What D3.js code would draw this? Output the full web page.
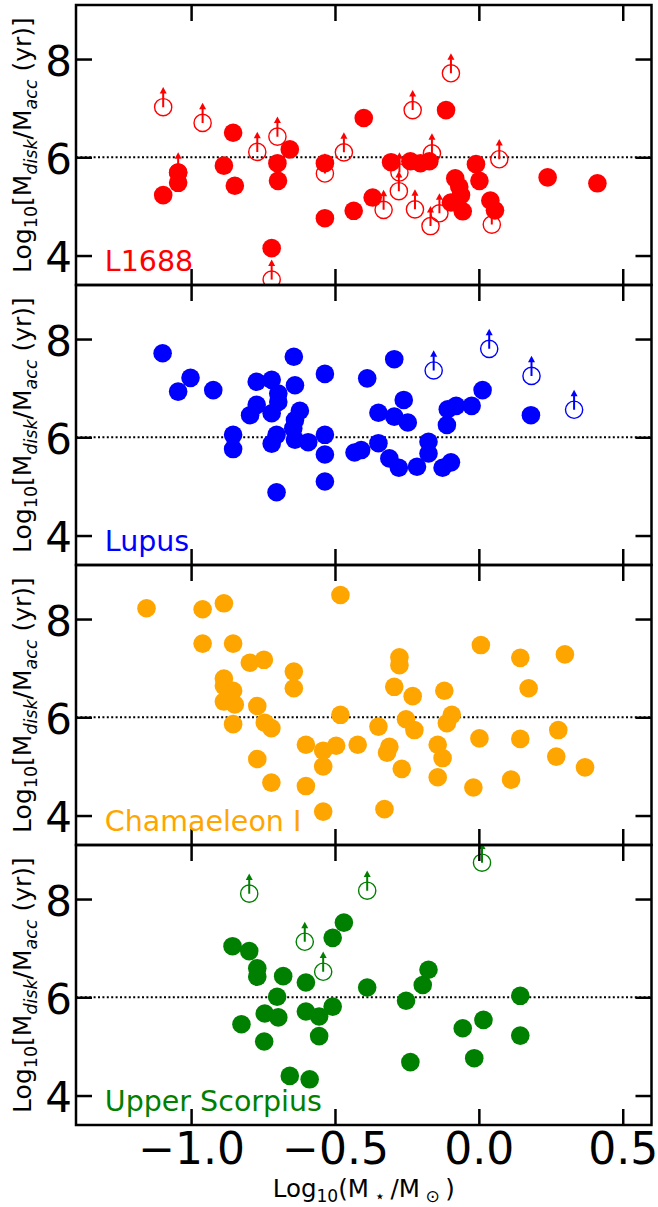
<!DOCTYPE html>
<html><head><meta charset="utf-8">
<script src="https://cdn.jsdelivr.net/npm/d3@7"></script>
<style>
html,body{margin:0;padding:0;background:#fff;}
svg{display:block;font-family:"DejaVu Sans",sans-serif;}
text{white-space:pre;}
</style></head><body>
<svg id="chart" width="658" height="1207"></svg>
<script>
// ---------- data ----------
const regionNames = ["L1688", "Lupus", "Chamaeleon I", "Upper Scorpius"];
const regionColors = ["red", "blue", "orange", "green"];
const xTicks = [-1.0, -0.5, 0.0, 0.5];
const yTicks = [4, 6, 8];
const xDomain = [-1.4, 0.6];
const yDomain = [3.4, 9.1];
const refLevel = 6;

// L1688: detections (filled) and lower limits (open + arrow)
const l1688DetMass = [-1.097,-1.045,-1.045,-0.886,-0.854,-0.848,-0.700,-0.698,-0.657,-0.720,-0.535,-0.535,-0.400,-0.435,-0.369,-0.305,-0.238,-0.203,-0.172,-0.114,-0.082,-0.068,-0.062,-0.097,-0.056,-0.010,0.002,0.040,0.056,0.239,0.412];
const l1688DetRatio = [5.23,5.48,5.69,5.83,6.50,5.42,5.88,5.52,6.16,4.15,5.88,4.76,6.80,4.91,5.18,5.90,5.92,5.88,5.92,6.96,5.57,5.40,5.23,5.08,4.90,5.86,5.52,5.12,4.92,5.59,5.47];
const l1688LimMass = [-1.097,-0.960,-0.770,-0.700,-0.720,-0.535,-1.045,-0.469,-0.230,-0.097,-0.163,0.071,-0.276,-0.278,-0.331,-0.222,-0.137,-0.168,0.045];
const l1688LimRatio = [7.02,6.70,6.11,6.42,3.51,5.67,5.69,6.10,6.96,7.71,6.08,5.96,5.69,5.31,4.93,4.94,4.86,4.60,4.63];

// Lupus
const lupusDetMass = [-1.099,-1.045,-1.002,-0.923,-0.854,-0.854,-0.772,-0.720,-0.697,-0.697,-0.772,-0.795,-0.720,-0.703,-0.720,-0.703,-0.643,-0.639,-0.622,-0.639,-0.645,-0.639,-0.593,-0.535,-0.535,-0.535,-0.535,-0.294,-0.388,-0.261,-0.349,-0.294,-0.247,-0.108,-0.079,-0.025,0.013,-0.111,0.181,-0.349,-0.432,-0.409,-0.311,-0.278,-0.215,-0.175,-0.175,-0.126,-0.097];
const lupusDetRatio = [7.71,6.93,7.21,6.96,6.05,5.76,7.13,7.17,6.89,6.72,6.66,6.45,6.49,6.05,5.87,4.88,7.64,7.06,6.54,6.35,6.18,5.95,5.90,7.29,6.05,5.65,5.10,7.59,7.20,6.76,6.50,6.42,6.30,6.57,6.64,6.64,6.96,6.25,6.45,5.88,5.69,5.74,5.57,5.38,5.40,5.91,5.67,5.38,5.49];
const lupusLimMass = [-0.157,0.036,0.183,0.331];
const lupusLimRatio = [7.36,7.80,7.25,6.56];

// Chamaeleon I
const chaDetMass = [-1.155,-0.960,-0.886,-0.960,-0.854,-0.796,-0.747,-0.643,-0.643,-0.886,-0.886,-0.854,-0.886,-0.848,-0.770,-0.854,-0.744,-0.721,-0.601,-0.770,-0.721,-0.601,-0.541,-0.541,-0.541,-0.481,-0.481,-0.496,-0.421,-0.349,-0.328,-0.319,-0.311,-0.276,-0.276,-0.294,-0.230,-0.253,-0.224,-0.268,-0.143,-0.126,-0.143,-0.120,-0.094,-0.111,0.007,0.002,-0.019,0.144,0.173,0.144,0.112,0.299,0.276,0.269,0.369];
const chaDetRatio = [8.22,8.20,8.32,7.50,7.50,7.11,7.17,6.93,6.59,6.79,6.64,6.54,6.32,6.26,6.23,5.86,5.89,5.78,5.44,5.15,4.67,4.60,4.08,5.32,5.00,8.49,6.05,5.42,5.44,5.81,4.13,5.28,5.40,7.22,7.06,6.62,6.43,5.96,5.74,4.95,5.44,5.17,4.78,6.54,6.05,5.88,7.47,5.57,4.57,7.21,6.59,5.56,4.73,7.28,5.74,5.20,4.98];
const chaLimMass = [];
const chaLimRatio = [];

// Upper Scorpius
const uscoDetMass = [-0.856,-0.798,-0.770,-0.770,-0.680,-0.601,-0.701,-0.744,-0.697,-0.825,-0.746,-0.657,-0.588,-0.601,-0.555,-0.555,-0.508,-0.508,-0.469,-0.388,-0.253,-0.195,-0.175,-0.238,-0.056,0.016,-0.016,0.144,0.144];
const uscoDetRatio = [7.04,6.94,6.59,6.42,6.43,6.30,6.01,5.67,5.59,5.45,5.10,4.40,4.33,5.71,5.61,5.21,7.21,5.81,7.52,6.20,5.93,6.25,6.56,4.68,5.37,5.54,4.76,6.03,5.22];
const uscoLimMass = [-0.798,-0.605,-0.541,-0.388,0.011];
const uscoLimRatio = [8.11,7.13,6.52,8.17,8.74];

// ---------- layout / style ----------
const plotLeft = 76, plotRight = 651.5, panelTop0 = 5, panelH = 280;
const tickLen = 16, tickW = 2.5, spineW = 2.5;
const dotR = 9.3, ringR = 8.6, ringW = 1.4;
const arrowLen = 0.41;      // dex
const headLen = 6.5, headHalfW = 3.5;

const panels = [
  {name: regionNames[0], color: regionColors[0], detX: l1688DetMass, detY: l1688DetRatio, limX: l1688LimMass, limY: l1688LimRatio},
  {name: regionNames[1], color: regionColors[1], detX: lupusDetMass, detY: lupusDetRatio, limX: lupusLimMass, limY: lupusLimRatio},
  {name: regionNames[2], color: regionColors[2], detX: chaDetMass, detY: chaDetRatio, limX: chaLimMass, limY: chaLimRatio},
  {name: regionNames[3], color: regionColors[3], detX: uscoDetMass, detY: uscoDetRatio, limX: uscoLimMass, limY: uscoLimRatio}
];

const svg = d3.select("#chart");
const x = d3.scaleLinear().domain(xDomain).range([plotLeft, plotRight]);
const defs = svg.append("defs");

function styleAxis(g) {
  g.select(".domain").remove();
  g.attr("font-family", null).attr("font-size", null);
  g.selectAll(".tick line").attr("stroke", "black").attr("stroke-width", tickW);
}

panels.forEach((p, i) => {
  const top = panelTop0 + i * panelH;
  const bottom = top + panelH;
  const y = d3.scaleLinear().domain(yDomain).range([bottom, top]);
  const clipId = "clip" + i;
  defs.append("clipPath").attr("id", clipId).append("rect")
    .attr("x", plotLeft).attr("y", top).attr("width", plotRight - plotLeft).attr("height", panelH);

  const g = svg.append("g");
  const pg = g.append("g").attr("clip-path", `url(#${clipId})`);

  pg.append("line")
    .attr("x1", x(xDomain[0])).attr("x2", x(xDomain[1]))
    .attr("y1", y(refLevel)).attr("y2", y(refLevel))
    .attr("stroke", "black").attr("stroke-width", 2).attr("stroke-dasharray", "2,2.4");

  const det = p.detX.map((m, k) => ({m, r: p.detY[k]}));
  const lim = p.limX.map((m, k) => ({m, r: p.limY[k]}));

  pg.selectAll("circle.det").data(det).join("circle").attr("class", "det")
    .attr("cx", d => x(d.m)).attr("cy", d => y(d.r)).attr("r", dotR).attr("fill", p.color);

  pg.selectAll("circle.lim").data(lim).join("circle").attr("class", "lim")
    .attr("cx", d => x(d.m)).attr("cy", d => y(d.r)).attr("r", ringR)
    .attr("fill", "none").attr("stroke", p.color).attr("stroke-width", ringW);

  pg.selectAll("line.arr").data(lim).join("line").attr("class", "arr")
    .attr("x1", d => x(d.m)).attr("x2", d => x(d.m))
    .attr("y1", d => y(d.r)).attr("y2", d => y(d.r + arrowLen) + headLen - 0.5)
    .attr("stroke", p.color).attr("stroke-width", 2);

  pg.selectAll("path.head").data(lim).join("path").attr("class", "head")
    .attr("d", d => {
      const tx = x(d.m), ty = y(d.r + arrowLen);
      return `M${tx},${ty}L${tx - headHalfW},${ty + headLen}L${tx + headHalfW},${ty + headLen}Z`;
    })
    .attr("fill", p.color);

  // axes (inward ticks on all four sides)
  const isBottom = i === panels.length - 1;
  const axB = g.append("g").attr("transform", `translate(0,${bottom})`)
    .call(d3.axisBottom(x).tickValues(xTicks).tickSizeInner(-tickLen).tickSizeOuter(0)
      .tickPadding(7.5).tickFormat(isBottom ? d3.format(".1f") : () => ""));
  styleAxis(axB);
  axB.selectAll(".tick text").attr("font-size", 44).attr("fill", "black");

  const axT = g.append("g").attr("transform", `translate(0,${top})`)
    .call(d3.axisTop(x).tickValues(xTicks).tickSizeInner(-tickLen).tickSizeOuter(0).tickFormat(() => ""));
  styleAxis(axT);

  const axL = g.append("g").attr("transform", `translate(${plotLeft},0)`)
    .call(d3.axisLeft(y).tickValues(yTicks).tickSizeInner(-tickLen).tickSizeOuter(0)
      .tickPadding(4).tickFormat(d3.format("d")));
  styleAxis(axL);
  axL.selectAll(".tick text").attr("font-size", 42).attr("fill", "black").attr("dy", "0.38em");

  const axR = g.append("g").attr("transform", `translate(${plotRight},0)`)
    .call(d3.axisRight(y).tickValues(yTicks).tickSizeInner(-tickLen).tickSizeOuter(0).tickFormat(() => ""));
  styleAxis(axR);

  // spines
  g.append("rect").attr("x", plotLeft).attr("y", top)
    .attr("width", plotRight - plotLeft).attr("height", panelH)
    .attr("fill", "none").attr("stroke", "black").attr("stroke-width", spineW);

  // region label
  g.append("text")
    .attr("x", plotLeft + 0.05 * (plotRight - plotLeft))
    .attr("y", bottom - 0.05 * panelH)
    .attr("font-size", 28.5).attr("fill", p.color)
    .text(p.name);

  // y-axis label
  const fs = 25, sub = fs * 0.7, drop = fs * 0.22;
  const yl = g.append("text")
    .attr("transform", `translate(31,${(top + bottom) / 2}) rotate(-90)`)
    .attr("text-anchor", "middle").attr("font-size", fs).attr("fill", "black");
  yl.append("tspan").text("Log");
  yl.append("tspan").attr("font-size", sub).attr("dy", drop).text("10");
  yl.append("tspan").attr("dy", -drop).text("[M");
  yl.append("tspan").attr("font-size", sub).attr("font-style", "italic").attr("dy", drop).text("disk");
  yl.append("tspan").attr("dy", -drop).text("/M");
  yl.append("tspan").attr("font-size", sub).attr("font-style", "italic").attr("dy", drop).text("acc");
  yl.append("tspan").attr("dy", -drop).text(" (yr)]");
});

// x-axis label
{
  const fs = 24.5, sub = fs * 0.7, drop = fs * 0.22;
  const xl = svg.append("text")
    .attr("x", (plotLeft + plotRight) / 2).attr("y", 1197)
    .attr("text-anchor", "middle").attr("font-size", fs).attr("fill", "black");
  xl.append("tspan").text("Log");
  xl.append("tspan").attr("font-size", sub).attr("dy", drop).text("10");
  xl.append("tspan").attr("dy", -drop).text("(M");
  xl.append("tspan").attr("font-size", sub).attr("dy", drop).text(" \u22C6 ");
  xl.append("tspan").attr("dy", -drop).text("/M");
  xl.append("tspan").attr("font-size", sub).attr("dy", drop).text(" \u2299 ");
  xl.append("tspan").attr("dy", -drop).text(")");
}
</script>
</body></html>
